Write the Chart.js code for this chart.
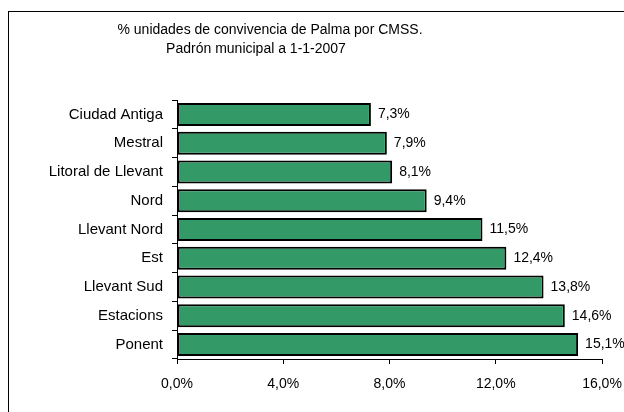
<!DOCTYPE html>
<html>
<head>
<meta charset="utf-8">
<script src="https://cdn.jsdelivr.net/npm/chart.js@4"></script>
<style>
  html, body { margin: 0; padding: 0; background: #fff; }
  #wrap { position: relative; width: 624px; height: 412px; overflow: hidden; }
  #frame { position: absolute; left: 8px; top: 11px; width: 640px; height: 420px; border: 1px solid #000; box-sizing: border-box; }
  canvas { position: absolute; left: 0; top: 0; }
</style>
</head>
<body>
<div id="wrap">
  <div id="frame"></div>
  <canvas id="chart" width="624" height="412"></canvas>
</div>
<script>
// ========== DATA ==========
const titleLines = ['% unidades de convivencia de Palma por CMSS.', 'Padrón municipal a 1-1-2007'];
const districts = ['Ciudad Antiga', 'Mestral', 'Litoral de Llevant', 'Nord', 'Llevant Nord', 'Est', 'Llevant Sud', 'Estacions', 'Ponent'];
const shares = [7.3, 7.9, 8.1, 9.4, 11.5, 12.4, 13.8, 14.6, 15.1];
const xTicks = [0, 4, 8, 12, 16];

const FONT = 'Liberation Sans, Arial, sans-serif';
const fmt = v => v.toFixed(1).replace('.', ',') + '%';

// ========== PLUGINS ==========
const titlePlugin = {
  id: 'titleLines',
  afterDraw(chart) {
    const ctx = chart.ctx;
    ctx.save();
    ctx.fillStyle = '#000';
    ctx.font = '14px ' + FONT;
    ctx.textAlign = 'center';
    ctx.textBaseline = 'middle';
    ctx.fillText(titleLines[0], 270, 30);
    ctx.fillText(titleLines[1], 256, 49);
    ctx.restore();
  }
};

const valueLabels = {
  id: 'valueLabels',
  afterDatasetsDraw(chart) {
    const ctx = chart.ctx;
    const meta = chart.getDatasetMeta(0);
    ctx.save();
    ctx.fillStyle = '#000';
    ctx.font = '14px ' + FONT;
    ctx.textAlign = 'left';
    ctx.textBaseline = 'middle';
    meta.data.forEach((bar, i) => {
      ctx.fillText(fmt(shares[i]), bar.x + 7, bar.y);
    });
    ctx.restore();
  }
};

// ========== CHART ==========
new Chart(document.getElementById('chart'), {
  type: 'bar',
  data: {
    labels: districts,
    datasets: [{
      data: shares,
      backgroundColor: '#339966',
      borderColor: '#000',
      borderWidth: 2,
      borderSkipped: false,
      categoryPercentage: 1,
      barPercentage: 0.8
    }]
  },
  options: {
    indexAxis: 'y',
    responsive: false,
    animation: false,
    layout: { padding: { top: 100, right: 22, left: 0, bottom: 0 } },
    plugins: { legend: { display: false }, tooltip: { enabled: false }, title: { display: false } },
    scales: {
      x: {
        min: 0,
        max: 16,
        afterBuildTicks: scale => { scale.ticks = xTicks.map(v => ({ value: v })); },
        afterFit: scale => {
          scale.height = 53;
          scale.paddingLeft = 0;
          scale.paddingRight = 0;
        },
        grid: { drawOnChartArea: false, drawTicks: true, tickLength: 5, color: '#000' },
        border: { color: '#000', width: 1 },
        ticks: {
          color: '#000',
          padding: 12,
          maxRotation: 0,
          font: { family: FONT, size: 14 },
          callback: v => fmt(v)
        }
      },
      y: {
        afterFit: scale => { scale.width = 177; },
        grid: { drawOnChartArea: false, drawTicks: true, tickLength: 5, offset: true, color: '#000' },
        border: { color: '#000', width: 1 },
        ticks: {
          color: '#000',
          padding: 9,
          font: { family: FONT, size: 15 }
        }
      }
    }
  },
  plugins: [titlePlugin, valueLabels]
});
</script>
</body>
</html>
